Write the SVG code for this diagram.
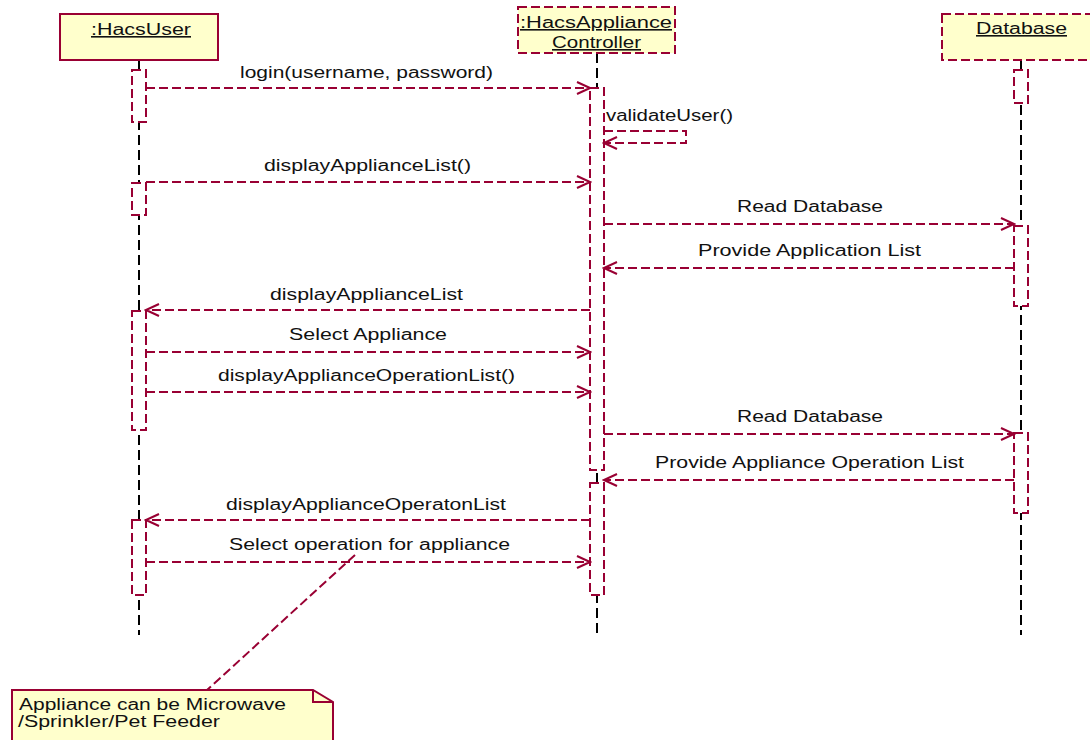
<svg xmlns="http://www.w3.org/2000/svg" width="1090" height="740" viewBox="0 0 1090 740">
<style>
.bg{fill:#ffffff}
.obj{fill:#ffffcc;stroke:#990033;stroke-width:2}
.dsh{stroke-dasharray:9 4}
.act{fill:#ffffff;stroke:#990033;stroke-width:2;stroke-dasharray:9 4}
.life{stroke:#000;stroke-width:2;stroke-dasharray:10 5;fill:none}
.msg{stroke:#990033;stroke-width:2;stroke-dasharray:9 4;fill:none}
text{font-family:"Liberation Sans",Arial,sans-serif;font-size:16px;fill:#111}
.t{text-decoration:underline}
.m{text-anchor:start}
</style>
<defs>
<marker id="arr" markerWidth="16" markerHeight="14" refX="14" refY="7" orient="auto" markerUnits="userSpaceOnUse">
<path d="M1,1 L14,7 L1,13" fill="none" stroke="#990033" stroke-width="2"/>
</marker>
</defs>
<rect class="bg" x="0" y="0" width="1090" height="740"/>
<g id="lifelines">
<line class="life" x1="139" y1="60" x2="139" y2="635"/>
<line class="life" x1="597" y1="53" x2="597" y2="635"/>
<line class="life" x1="1021" y1="60" x2="1021" y2="635"/>
</g>
<g id="node-hacsuser">
<rect class="obj" x="60" y="14" width="158" height="46"/>
<text class="t" x="91" y="35" textLength="100" lengthAdjust="spacingAndGlyphs">:HacsUser</text>
</g>
<g id="node-controller">
<rect class="obj dsh" x="518" y="7" width="157" height="46"/>
<text class="t" x="520" y="28" textLength="152" lengthAdjust="spacingAndGlyphs">:HacsAppliance</text>
<text class="t" x="552" y="48" textLength="89" lengthAdjust="spacingAndGlyphs">Controller</text>
</g>
<g id="node-database">
<rect class="obj dsh" x="942" y="14" width="160" height="46"/>
<text class="t" x="976" y="34" textLength="91" lengthAdjust="spacingAndGlyphs">Database</text>
</g>
<g id="activations">
<rect class="act" x="132" y="70" width="14" height="52"/>
<rect class="act" x="132" y="183" width="14" height="32"/>
<rect class="act" x="132" y="311" width="14" height="119"/>
<rect class="act" x="132" y="520" width="14" height="75"/>
<rect class="act" x="590" y="88" width="14" height="382"/>
<rect class="act" x="590" y="483" width="14" height="112"/>
<rect class="act" x="1014" y="70" width="14" height="33"/>
<rect class="act" x="1014" y="226" width="14" height="80"/>
<rect class="act" x="1014" y="433" width="14" height="80"/>
</g>
<g id="connectors">
<line class="msg" x1="146" y1="88" x2="590" y2="88" marker-end="url(#arr)"/>
<polyline class="msg" points="604,131 686,131 686,143 604,143" marker-end="url(#arr)"/>
<line class="msg" x1="146" y1="182" x2="590" y2="182" marker-end="url(#arr)"/>
<line class="msg" x1="604" y1="224" x2="1014" y2="224" marker-end="url(#arr)"/>
<line class="msg" x1="1014" y1="268" x2="604" y2="268" marker-end="url(#arr)"/>
<line class="msg" x1="590" y1="310" x2="146" y2="310" marker-end="url(#arr)"/>
<line class="msg" x1="146" y1="352" x2="590" y2="352" marker-end="url(#arr)"/>
<line class="msg" x1="146" y1="392" x2="590" y2="392" marker-end="url(#arr)"/>
<line class="msg" x1="604" y1="434" x2="1014" y2="434" marker-end="url(#arr)"/>
<line class="msg" x1="1014" y1="480" x2="604" y2="480" marker-end="url(#arr)"/>
<line class="msg" x1="590" y1="520" x2="146" y2="520" marker-end="url(#arr)"/>
<line class="msg" x1="146" y1="562" x2="590" y2="562" marker-end="url(#arr)"/>
<line class="msg" x1="355" y1="555" x2="207" y2="690"/>
</g>
<g id="labels">
<text x="240" y="78" textLength="253" lengthAdjust="spacingAndGlyphs">login(username, password)</text>
<text x="606" y="121" textLength="127" lengthAdjust="spacingAndGlyphs">validateUser()</text>
<text x="264" y="171" textLength="207" lengthAdjust="spacingAndGlyphs">displayApplianceList()</text>
<text x="737" y="212" textLength="146" lengthAdjust="spacingAndGlyphs">Read Database</text>
<text x="698" y="256" textLength="223" lengthAdjust="spacingAndGlyphs">Provide Application List</text>
<text x="270" y="300" textLength="193" lengthAdjust="spacingAndGlyphs">displayApplianceList</text>
<text x="289" y="340" textLength="158" lengthAdjust="spacingAndGlyphs">Select Appliance</text>
<text x="218" y="381" textLength="297" lengthAdjust="spacingAndGlyphs">displayApplianceOperationList()</text>
<text x="737" y="422" textLength="146" lengthAdjust="spacingAndGlyphs">Read Database</text>
<text x="655" y="468" textLength="309" lengthAdjust="spacingAndGlyphs">Provide Appliance Operation List</text>
<text x="226" y="510" textLength="280" lengthAdjust="spacingAndGlyphs">displayApplianceOperatonList</text>
<text x="229" y="550" textLength="281" lengthAdjust="spacingAndGlyphs">Select operation for appliance</text>
</g>
<g id="node-note">
<path class="obj" d="M12,690 L313,690 L333,702 L333,745 L12,745 Z"/>
<path d="M313,690 L313,702 L333,702" fill="none" stroke="#990033" stroke-width="2"/>
<text x="19" y="710" textLength="267" lengthAdjust="spacingAndGlyphs">Appliance can be Microwave</text>
<text x="18" y="727" textLength="202" lengthAdjust="spacingAndGlyphs">/Sprinkler/Pet Feeder</text>
</g>
</svg>
